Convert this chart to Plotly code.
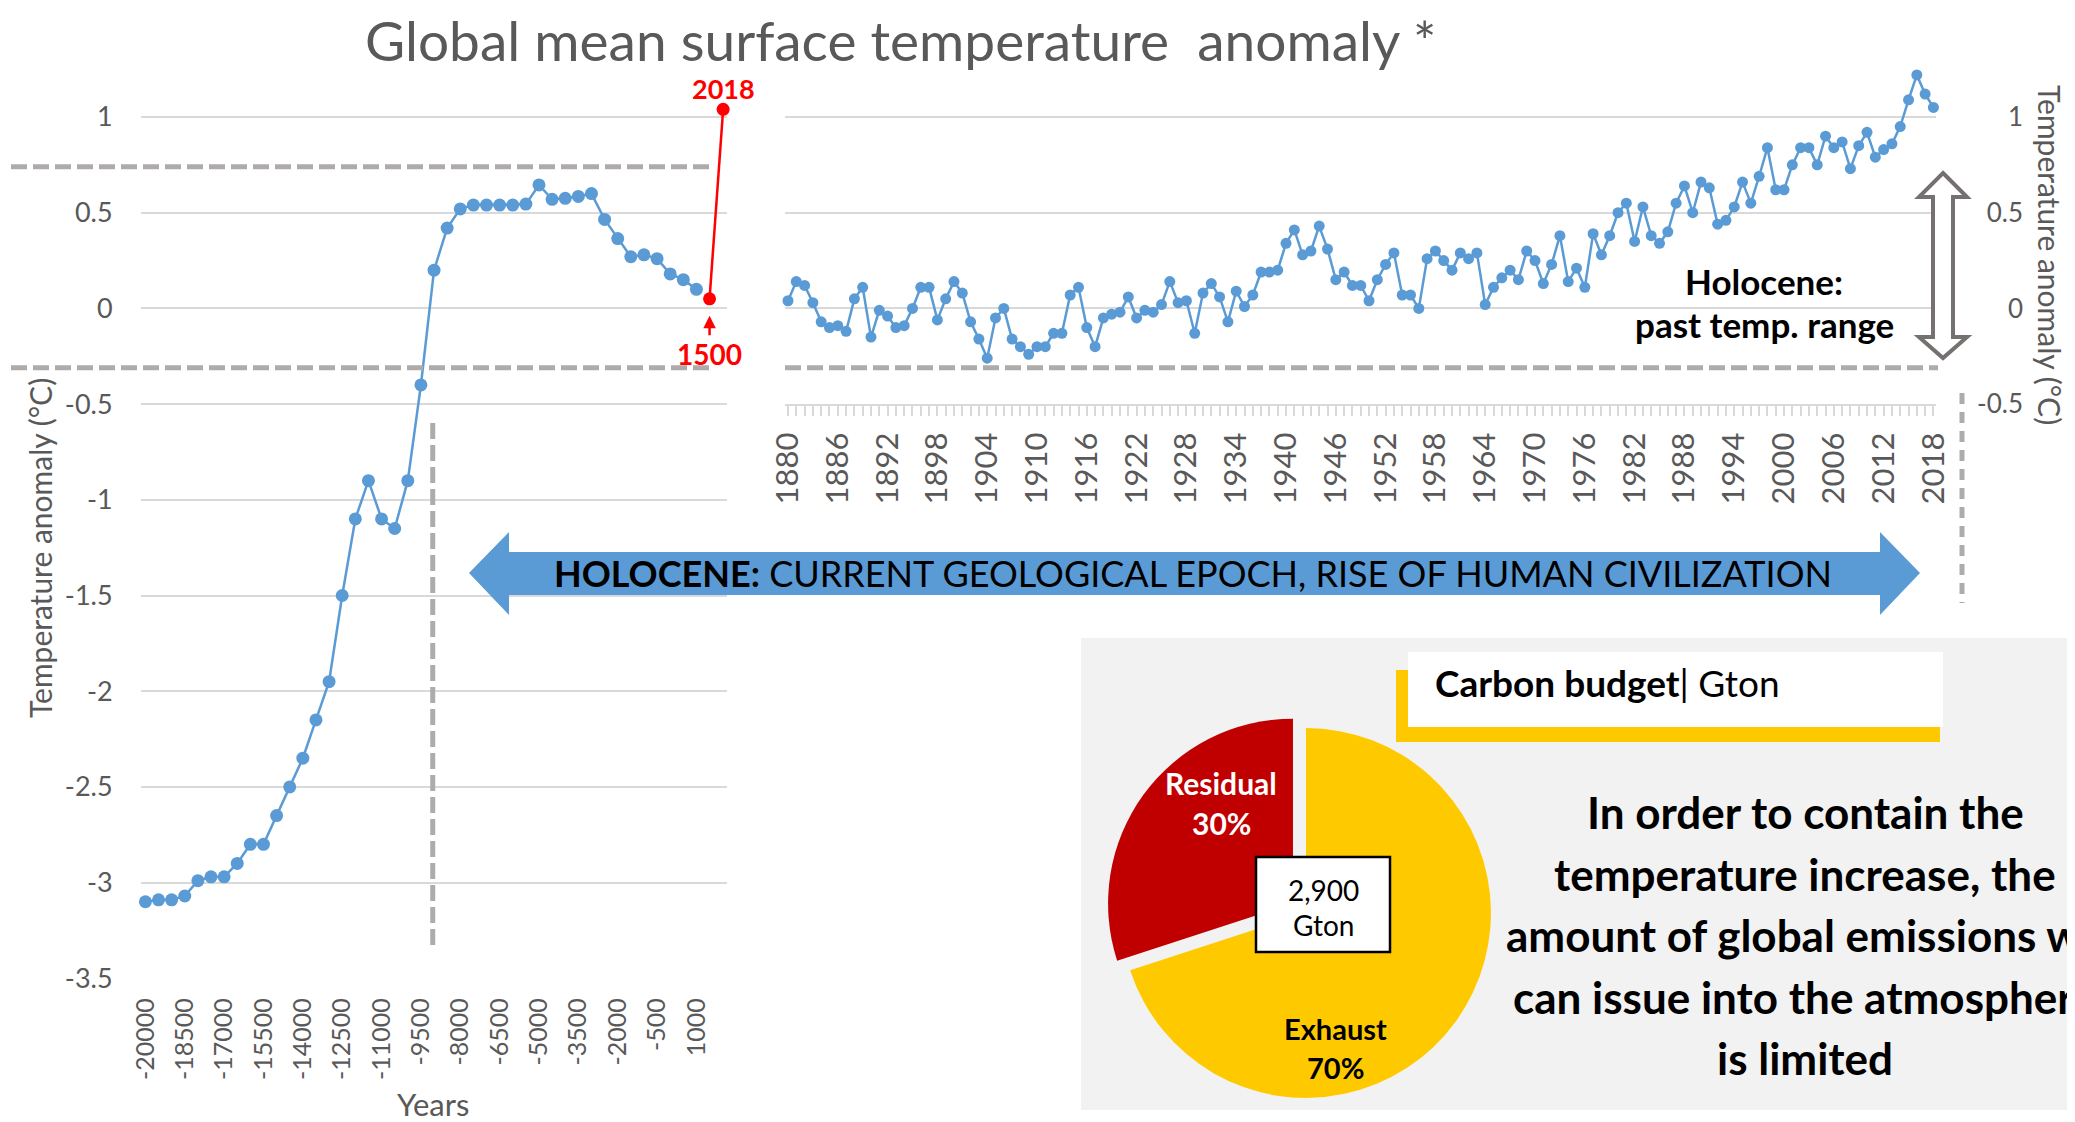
import plotly.graph_objects as go

W, H = 2075, 1122
OFF = 8  # the page body adds an 8px margin; positions below are in reference pixels
def px(x): return (x - OFF) / W
def py(y): return 1 - (y - OFF) / H

FONT = "Lato"
GREY = "#595959"
GRID = "#d9d9d9"
DASH_C = "#afabab"
BLUE = "#5b9bd5"

# ---------------- data ----------------
hist_years = list(range(-20000, 1001, 500))
hist_temp = [-3.10, -3.09, -3.09, -3.07, -2.99, -2.97, -2.97, -2.90, -2.80, -2.80,
             -2.65, -2.50, -2.35, -2.15, -1.95, -1.50, -1.10, -0.90, -1.10, -1.15,
             -0.90, -0.40, 0.20, 0.42, 0.52, 0.54, 0.54, 0.54, 0.54, 0.545,
             0.645, 0.57, 0.575, 0.585, 0.60, 0.465, 0.365, 0.27, 0.28, 0.26,
             0.18, 0.15, 0.10]
recent_years = [1500, 2018]
recent_temp = [0.05, 1.04]
hist_tickvals = [-20000, -18500, -17000, -15500, -14000, -12500, -11000, -9500,
                 -8000, -6500, -5000, -3500, -2000, -500, 1000]
hist_ticktext = ["-20000", "-18500", "-17000", "-15500", "-14000", "-12500", "-11000", "-9500",
                 "-8000", "-6500", "-5000", "-3500", "-2000", "-500", "1000"]
temp_tickvals = [-3.5, -3, -2.5, -2, -1.5, -1, -0.5, 0, 0.5, 1]
temp_ticktext = ["-3.5", "-3", "-2.5", "-2", "-1.5", "-1", "-0.5", "0", "0.5", "1"]

modern_years = list(range(1880, 2019))
modern_temp = [0.04, 0.14, 0.12, 0.03, -0.07, -0.10, -0.09, -0.12, 0.05, 0.11,   # 1880-1889
               -0.15, -0.01, -0.04, -0.10, -0.09, 0.00, 0.11, 0.11, -0.06, 0.05,  # 1890-1899
               0.14, 0.08, -0.07, -0.16, -0.26, -0.05, 0.00, -0.16, -0.20, -0.24, # 1900-1909
               -0.20, -0.20, -0.13, -0.13, 0.07, 0.11, -0.10, -0.20, -0.05, -0.03,# 1910-1919
               -0.02, 0.06, -0.05, -0.01, -0.02, 0.02, 0.14, 0.03, 0.04, -0.13,   # 1920-1929
               0.08, 0.13, 0.06, -0.07, 0.09, 0.01, 0.07, 0.19, 0.19, 0.20,       # 1930-1939
               0.34, 0.41, 0.28, 0.30, 0.43, 0.31, 0.15, 0.19, 0.12, 0.12,        # 1940-1949
               0.04, 0.15, 0.23, 0.29, 0.07, 0.07, 0.00, 0.26, 0.30, 0.25,        # 1950-1959
               0.20, 0.29, 0.26, 0.29, 0.02, 0.11, 0.16, 0.20, 0.15, 0.30,        # 1960-1969
               0.25, 0.13, 0.23, 0.38, 0.14, 0.21, 0.11, 0.39, 0.28, 0.38,        # 1970-1979
               0.50, 0.55, 0.35, 0.53, 0.38, 0.34, 0.40, 0.55, 0.64, 0.50,        # 1980-1989
               0.66, 0.63, 0.44, 0.46, 0.53, 0.66, 0.55, 0.69, 0.84, 0.62,        # 1990-1999
               0.62, 0.75, 0.84, 0.84, 0.75, 0.90, 0.84, 0.87, 0.73, 0.85,        # 2000-2009
               0.92, 0.79, 0.83, 0.86, 0.95, 1.09, 1.22, 1.12, 1.05]              # 2010-2018
modern_tickvals = list(range(1880, 2019, 6))
modern_ticktext = [str(v) for v in modern_tickvals]
modern_y_tickvals = [-0.5, 0, 0.5, 1]
modern_y_ticktext = ["-0.5", "0", "0.5", "1"]

holocene_high = 0.74
holocene_low = -0.31
holocene_start = -9050

budget_labels = ["Exhaust", "Residual"]
budget_values = [70, 30]
budget_colors = ["#ffc900", "#c00000"]
budget_total = "2,900"

fig = go.Figure()

# ---------------- traces ----------------
fig.add_trace(go.Scatter(x=hist_years, y=hist_temp, mode="lines+markers",
                         line=dict(color=BLUE, width=2.5), marker=dict(color=BLUE, size=13),
                         cliponaxis=False, xaxis="x", yaxis="y", showlegend=False))
fig.add_trace(go.Scatter(x=recent_years, y=recent_temp, mode="lines+markers",
                         line=dict(color="#ff0000", width=2.5), marker=dict(color="#ff0000", size=13),
                         cliponaxis=False, xaxis="x", yaxis="y", showlegend=False))
fig.add_trace(go.Scatter(x=modern_years, y=modern_temp, mode="lines+markers",
                         line=dict(color=BLUE, width=2.5), marker=dict(color=BLUE, size=11),
                         cliponaxis=False, xaxis="x2", yaxis="y2", showlegend=False))
fig.add_trace(go.Pie(labels=budget_labels, values=budget_values, sort=False,
                     direction="clockwise", rotation=0, pull=[0, 0.087],
                     marker=dict(colors=budget_colors, line=dict(width=0)),
                     textinfo="none", hoverinfo="label+percent", showlegend=False,
                     domain=dict(x=[px(1105), px(1507)], y=[py(1114), py(712)])))

# ---------------- shapes ----------------
shapes = []
shapes.append(dict(type="rect", xref="paper", yref="paper", x0=px(1081), x1=1.0,
                   y0=py(1110), y1=py(638), fillcolor="#f2f2f2", line=dict(width=0), layer="below"))
shapes.append(dict(type="rect", xref="paper", yref="paper", x0=px(1396), x1=px(1940),
                   y0=py(742), y1=py(670), fillcolor="#ffc900", line=dict(width=0)))
shapes.append(dict(type="rect", xref="paper", yref="paper", x0=px(1408), x1=px(1943),
                   y0=py(727), y1=py(652), fillcolor="white", line=dict(width=0)))
shapes.append(dict(type="rect", xref="paper", yref="paper", x0=px(1256), x1=px(1390),
                   y0=py(952), y1=py(857), fillcolor="white", line=dict(color="black", width=2.5)))

dash = dict(color=DASH_C, width=5, dash="16px,6px")
shapes.append(dict(type="line", xref="paper", yref="y", x0=px(11), x1=px(715),
                   y0=holocene_high, y1=holocene_high, line=dash))
shapes.append(dict(type="line", xref="paper", yref="y", x0=px(11), x1=px(715),
                   y0=holocene_low, y1=holocene_low, line=dash))
shapes.append(dict(type="line", xref="paper", yref="y2", x0=px(785), x1=px(1938),
                   y0=holocene_low, y1=holocene_low, line=dash))
shapes.append(dict(type="line", xref="x", yref="paper", x0=holocene_start, x1=holocene_start,
                   y0=py(423), y1=py(950), line=dash))
shapes.append(dict(type="line", xref="paper", yref="paper", x0=px(1962), x1=px(1962),
                   y0=py(393), y1=py(603), line=dict(color=DASH_C, width=5, dash="11px,8px")))

def path(pts):
    return "M " + " L ".join(f"{px(a):.5f},{py(b):.5f}" for a, b in pts) + " Z"

blue_arrow = [(469, 573), (509, 532), (509, 552), (1880, 552), (1880, 532), (1920, 573),
              (1880, 615), (1880, 595), (509, 595), (509, 615)]
shapes.append(dict(type="path", xref="paper", yref="paper", path=path(blue_arrow),
                   fillcolor=BLUE, line=dict(width=0)))
range_arrow = [(1943, 173), (1967, 197), (1953, 197), (1953, 337), (1967, 337), (1943, 358),
               (1919, 337), (1933, 337), (1933, 197), (1919, 197)]
shapes.append(dict(type="path", xref="paper", yref="paper", path=path(range_arrow),
                   fillcolor="white", line=dict(color="#767171", width=4)))

# ---------------- annotations ----------------
ann = []
def txt(x, y, text, size, color="black", bold=False, angle=0, xanchor="center"):
    t = f"<b>{text}</b>" if bold else text
    ann.append(dict(xref="paper", yref="paper", x=px(x), y=py(y), text=t, showarrow=False,
                    xanchor=xanchor, yanchor="middle", textangle=angle,
                    font=dict(family=FONT, size=size, color=color)))

txt(900, 40, "Global mean surface temperature \u00a0anomaly *", 55, GREY)
txt(40, 548, "Temperature anomaly (°C)", 30, GREY, angle=-90)
txt(2050, 255, "Temperature anomaly (°C)", 30, GREY, angle=90)
txt(433, 1104, "Years", 31, GREY)

ann.append(dict(xref="x", yref="y", x=recent_years[1], y=recent_temp[1], text="<b>2018</b>",
                showarrow=False, yanchor="bottom", yshift=2,
                font=dict(family=FONT, size=27, color="#ff0000")))
ann.append(dict(xref="x", yref="y", x=recent_years[0], y=recent_temp[0], text="<b>1500</b>",
                showarrow=True, ax=0, ay=55, standoff=17, arrowhead=2, arrowsize=1,
                arrowwidth=2.5, arrowcolor="#ff0000",
                font=dict(family=FONT, size=28, color="#ff0000")))

txt(1764, 281, "Holocene:", 35, bold=True)
txt(1764, 324, "past temp. range", 35, bold=True)

txt(1193, 573, "<b>HOLOCENE:</b> CURRENT GEOLOGICAL EPOCH, RISE OF HUMAN CIVILIZATION", 36)

txt(1433, 682, "<b>Carbon budget</b>| Gton", 37, xanchor="left")

txt(1221, 783, budget_labels[1], 30, "white", bold=True)
txt(1221, 823, f"{budget_values[1]}%", 30, "white", bold=True)
txt(1335, 1028, budget_labels[0], 29, bold=True)
txt(1335, 1067, f"{budget_values[0]}%", 29, bold=True)
txt(1323, 890, budget_total, 28)
txt(1323, 925, "Gton", 28)

msg = ["In order to contain the", "temperature increase, the", "amount of global emissions we",
       "can issue into the atmosphere", "is limited"]
for i, line in enumerate(msg):
    txt(1805, 812 + i * 61.5, line, 44, bold=True)

# ---------------- layout ----------------
fig.update_layout(
    template="none",
    width=W, height=H, margin=dict(l=0, r=0, t=0, b=0, autoexpand=False),
    paper_bgcolor="white", plot_bgcolor="rgba(0,0,0,0)",
    font=dict(family=FONT, color=GREY),
    shapes=shapes, annotations=ann, showlegend=False,
    xaxis=dict(domain=[px(140.6), px(727)], range=[-20183, 2165], showgrid=False, zeroline=False,
               tickmode="array", tickvals=hist_tickvals, ticktext=hist_ticktext, tickangle=-90,
               ticks="", ticklabelstandoff=14, tickfont=dict(size=25, color=GREY, family=FONT),
               anchor="y", automargin=False, showline=False),
    yaxis=dict(domain=[py(978.3), py(59.6)], range=[-3.5, 1.3], showgrid=True, gridcolor=GRID,
               gridwidth=2, zeroline=False, tickmode="array", tickvals=temp_tickvals,
               ticktext=temp_ticktext, ticks="", ticklabelstandoff=27,
               tickfont=dict(size=27, color=GREY, family=FONT), anchor="x", automargin=False,
               showline=False),
    xaxis2=dict(domain=[px(785), px(1936)], range=[1879.64, 2018.31], showgrid=False, zeroline=False,
                tickmode="array", tickvals=modern_tickvals, ticktext=modern_ticktext, tickangle=-90,
                ticks="outside", ticklen=10, tickwidth=2, tickcolor=GRID,
                minor=dict(ticks="outside", ticklen=10, tickwidth=2, tickcolor=GRID, dtick=1,
                           tick0=1880, showgrid=False),
                showline=True, linecolor=GRID, linewidth=2, ticklabelstandoff=4,
                tickfont=dict(size=31, color=GREY, family=FONT), anchor="y2", automargin=False),
    yaxis2=dict(domain=[py(404.1), py(59.6)], range=[-0.5, 1.3], showgrid=True, gridcolor=GRID,
                gridwidth=2, zeroline=False, tickmode="array", tickvals=modern_y_tickvals,
                ticktext=modern_y_ticktext, ticks="", side="left", anchor="free",
                position=px(2023), tickfont=dict(size=26, color=GREY, family=FONT),
                automargin=False, showline=False),
)

fig.write_html("out.html")
